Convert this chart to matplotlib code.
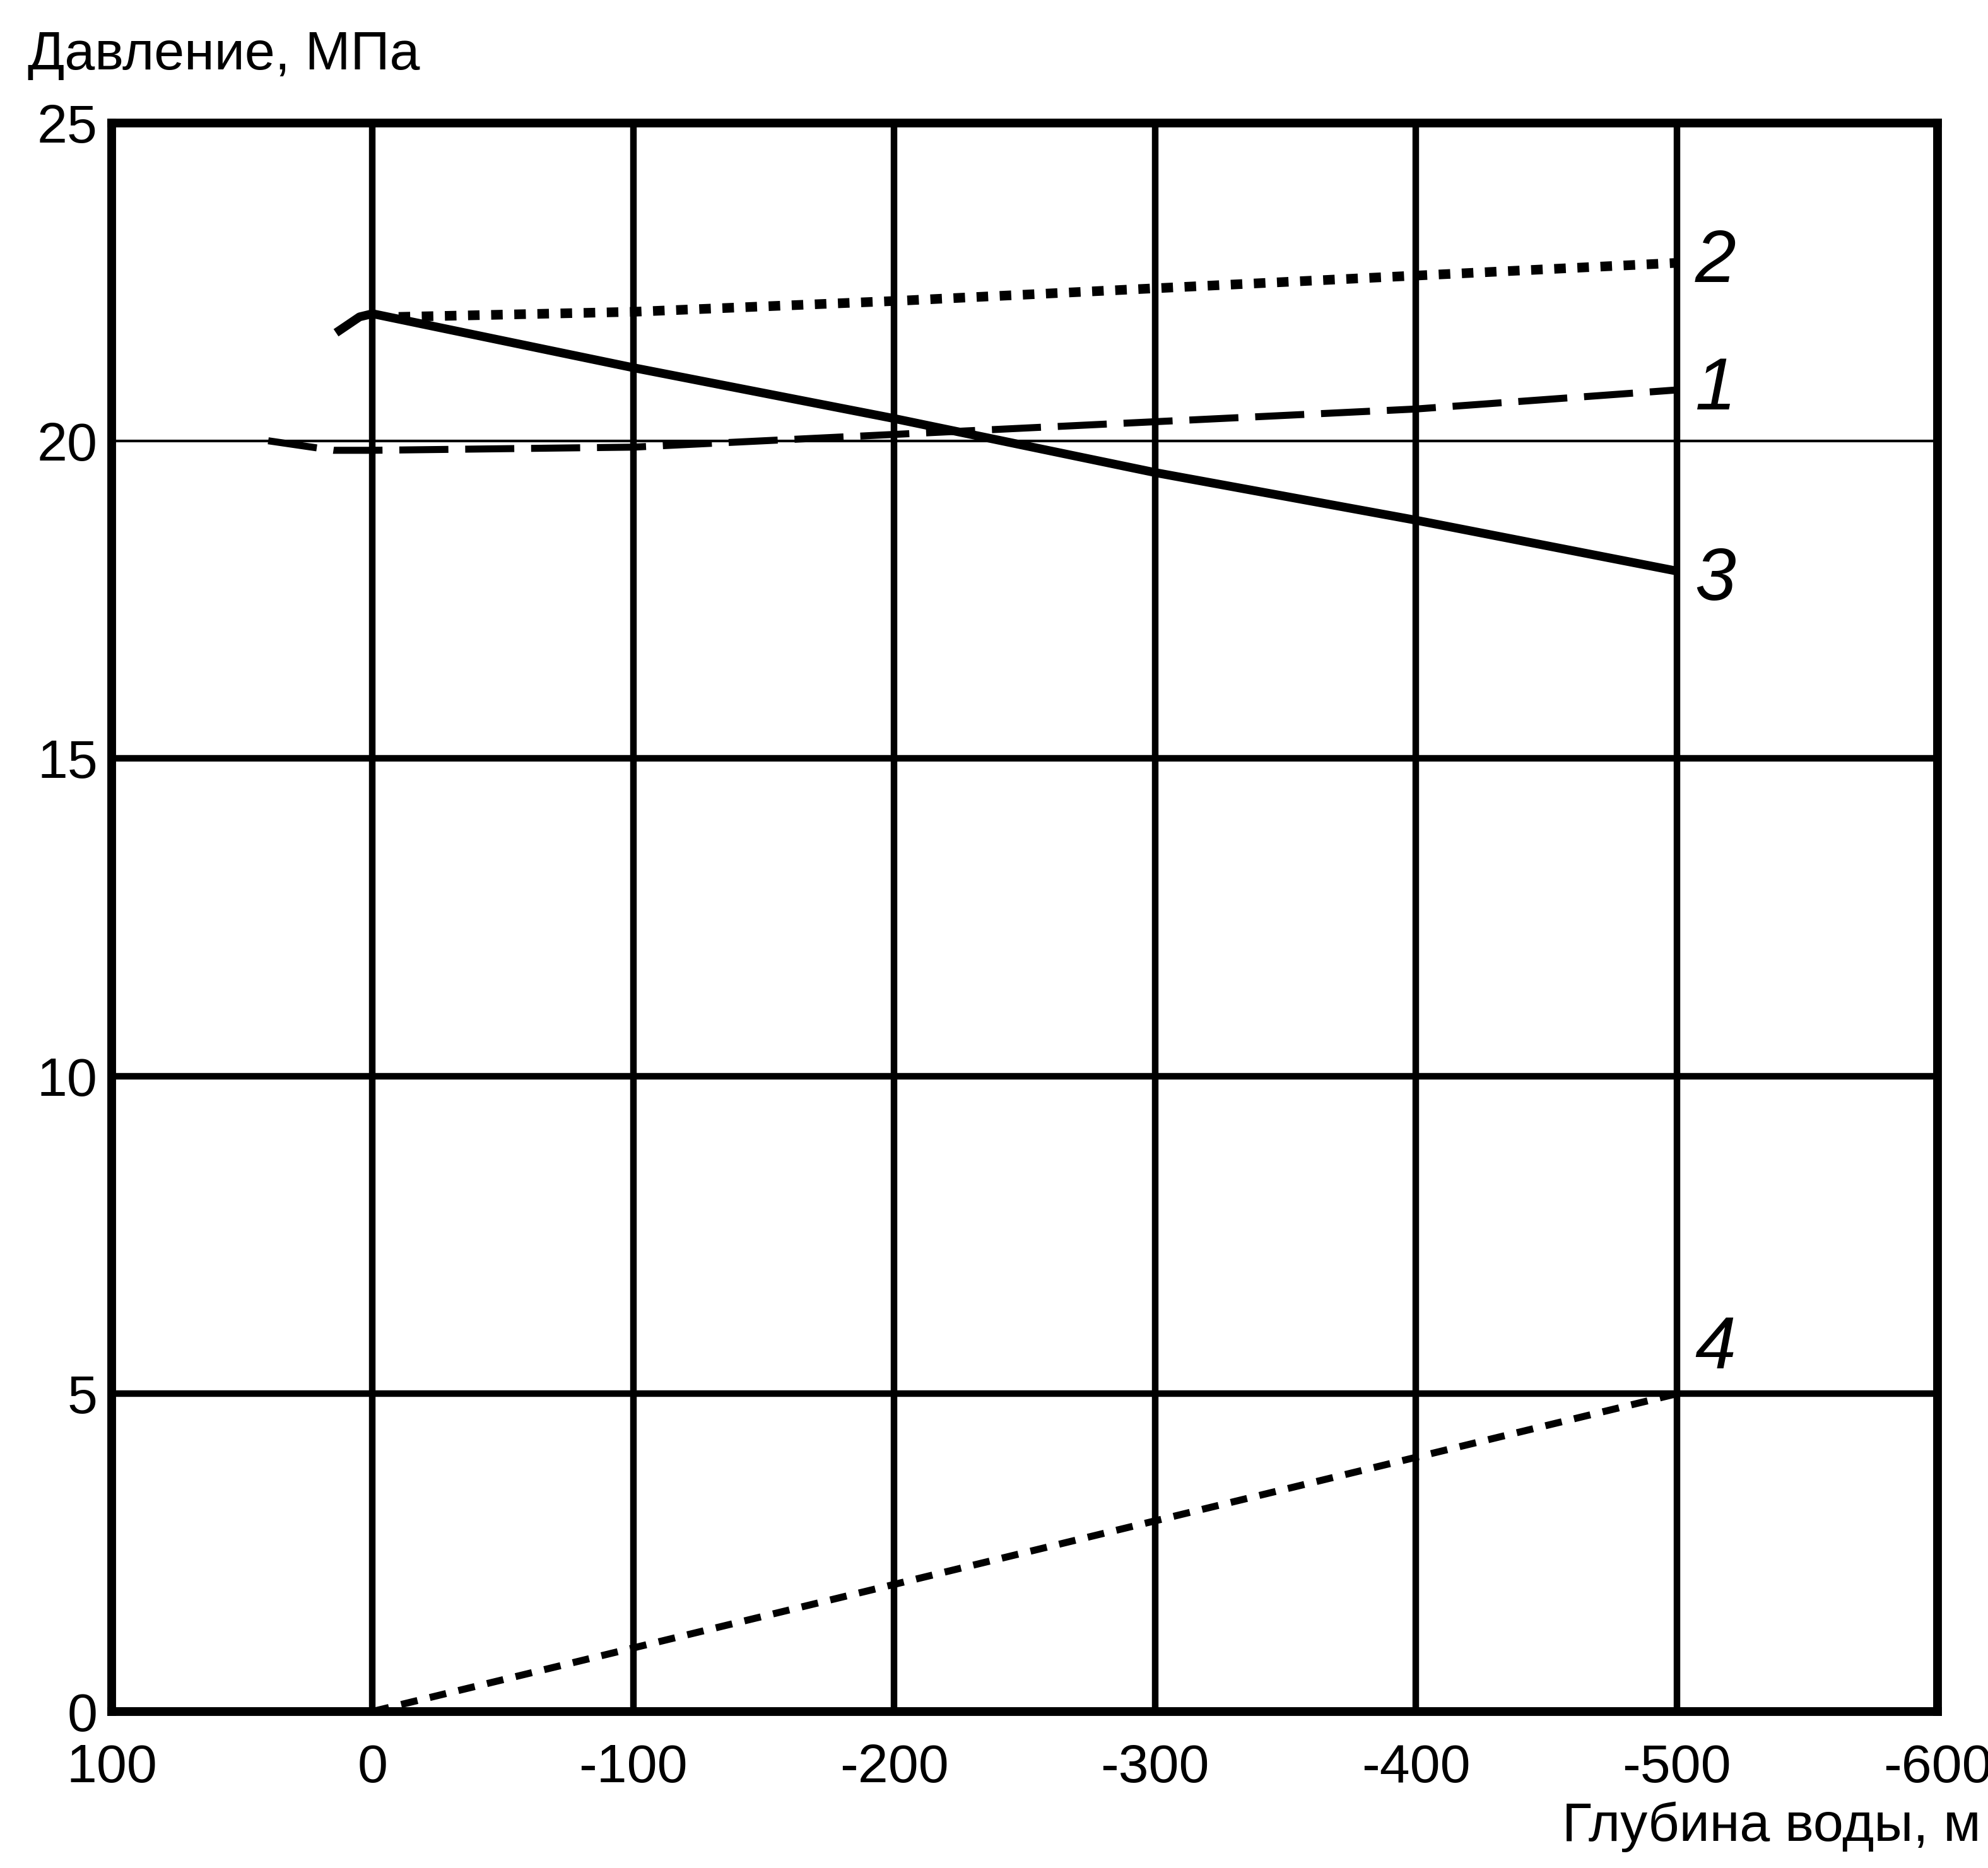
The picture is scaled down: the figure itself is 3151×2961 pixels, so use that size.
import matplotlib
matplotlib.use("Agg")
import matplotlib.pyplot as plt

plt.rcParams['font.family'] = ['Liberation Sans', 'DejaVu Sans']

# curves: depth (m) -> pressure (MPa)
depth_1 = [40, 15, 0, -100, -200, -300, -400, -500]
p_1 = [20.0, 19.85, 19.85, 19.9, 20.1, 20.3, 20.5, 20.8]
depth_2 = [-10, -100, -200, -300, -400, -500]
p_2 = [21.95, 22.03, 22.2, 22.4, 22.6, 22.8]
depth_3 = [14, 5, 0, -100, -200, -300, -400, -500]
p_3 = [21.7, 21.95, 22.0, 21.15, 20.35, 19.5, 18.75, 17.95]
depth_4 = [0, -100, -200, -300, -400, -500]
p_4 = [0, 1, 2, 3, 4, 5]

curve_names = ["1", "2", "3", "4"]
label_y = [20.8, 22.8, 17.8, 5.7]

x_ticks = [100, 0, -100, -200, -300, -400, -500, -600]
y_ticks = [0, 5, 10, 15, 20, 25]

fig = plt.figure(figsize=(31.51, 29.61), dpi=100)
ax = fig.add_axes([0.0562, 0.0838, 0.9184, 0.8503])

ax.plot(depth_1, p_1, color='black', lw=8, dashes=(7, 2.4), solid_capstyle='butt')
ax.plot(depth_2, p_2, color='black', lw=11, dashes=(1.2, 1.2), dash_capstyle='butt')
ax.plot(depth_3, p_3, color='black', lw=10, solid_capstyle='butt')
ax.plot(depth_4, p_4, color='black', lw=8, dashes=(2.4, 1.8), dash_capstyle='butt')

for name, yy in zip(curve_names, label_y):
    ax.text(-507, yy, name, fontsize=84, fontstyle='italic', ha='left', va='center')

ax.set_xlim(100, -600)
ax.set_ylim(0, 25)
ax.set_xticks(x_ticks)
ax.set_xticklabels([str(v) for v in x_ticks])
ax.set_yticks(y_ticks)
ax.set_yticklabels([str(v) for v in y_ticks])
ax.tick_params(length=0, labelsize=62)
ax.tick_params(axis='x', pad=36)
ax.tick_params(axis='y', pad=16)

ax.grid(True, color='black', lw=7.5)
ax.get_ygridlines()[4].set_linewidth(3)
ax.set_axisbelow(True)
for s in ax.spines.values():
    s.set_linewidth(10)

fig.text(44 / 3151, 1 - 110 / 2961, "Давление, МПа", fontsize=62, ha='left', va='baseline')
fig.text(3140 / 3151, 1 - 2918 / 2961, "Глубина воды, м", fontsize=62, ha='right', va='baseline')

fig.savefig("out.png", dpi=100)
